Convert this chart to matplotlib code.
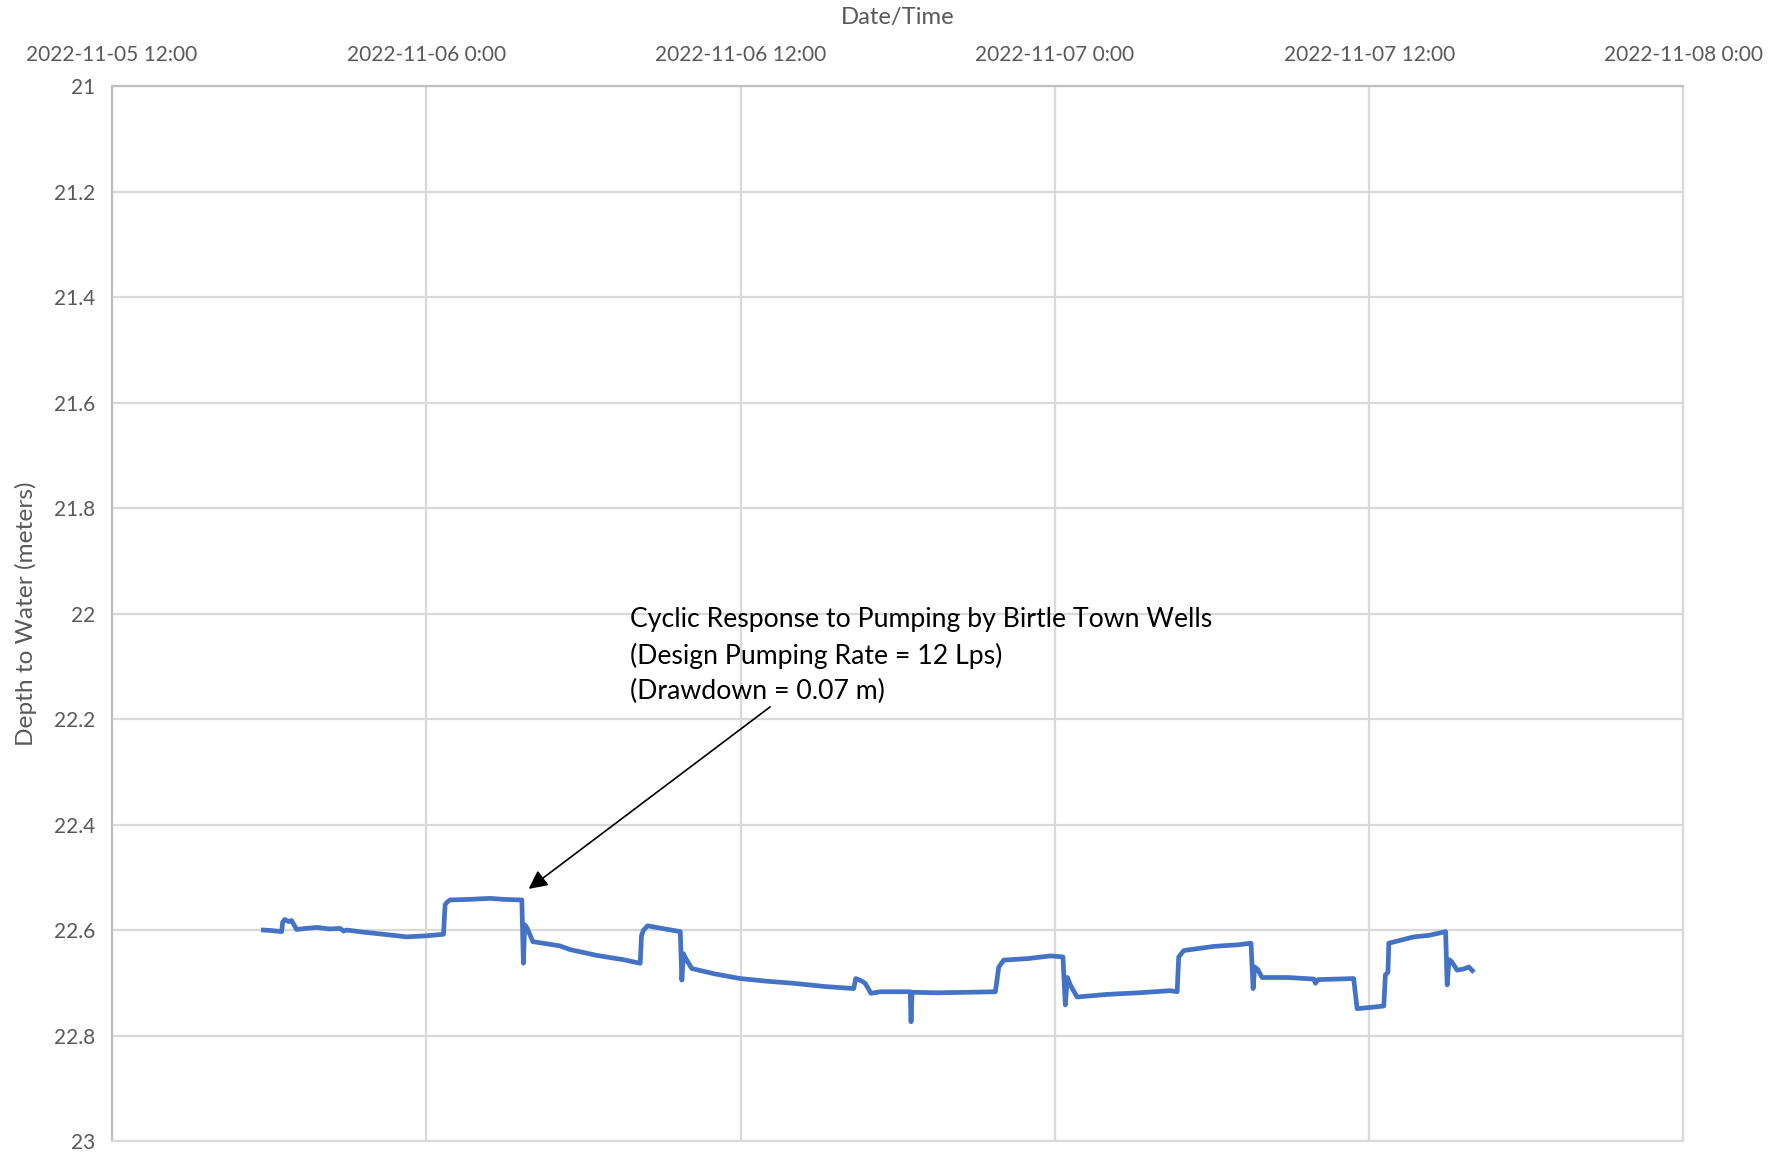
import matplotlib
matplotlib.use("Agg")
import matplotlib.pyplot as plt
import pandas as pd

# ---- data ----
start_time = "2022-11-05 12:00"
hours_since_start = [
    5.78, 6.10, 6.48, 6.52, 6.60, 6.75, 6.86, 7.05, 7.40, 7.82, 8.30, 8.71, 8.85, 8.96,
    9.60, 10.36, 11.26, 12.00, 12.66, 12.72, 12.80, 12.91, 13.60, 14.44, 15.00, 15.65,
    15.71, 15.76, 15.85, 16.07, 17.10, 17.49, 18.50, 19.50, 20.17, 20.22, 20.30, 20.45,
    21.00, 21.70, 21.76, 21.82, 21.92, 22.14, 23.00, 23.99, 25.00, 26.03, 27.20, 28.32,
    28.40, 28.60, 28.76, 28.98, 29.34, 30.48, 30.51, 30.55, 31.50, 32.70, 33.73, 33.86,
    34.05, 35.00, 35.83, 36.31, 36.40, 36.48, 36.60, 36.85, 38.00, 39.20, 40.41, 40.67,
    40.73, 40.92, 41.05, 42.07, 43.00, 43.49, 43.57, 43.63, 43.75, 43.91, 44.90, 45.89,
    45.95, 46.05, 47.41, 47.54, 48.00, 48.56, 48.62, 48.72, 48.75, 49.71, 50.30, 50.92,
    50.98, 51.05, 51.15, 51.36, 51.60, 51.81, 51.94,
]
depth_m = [
    22.600, 22.601, 22.603, 22.585, 22.580, 22.584, 22.582, 22.599, 22.597, 22.595, 22.598, 22.597, 22.602, 22.600,
    22.604, 22.608, 22.613, 22.611, 22.608, 22.552, 22.547, 22.543, 22.542, 22.540, 22.542, 22.543,
    22.663, 22.590, 22.596, 22.622, 22.630, 22.637, 22.648, 22.656, 22.663, 22.610, 22.600, 22.592,
    22.597, 22.603, 22.695, 22.645, 22.655, 22.673, 22.683, 22.692, 22.697, 22.701, 22.707, 22.711,
    22.692, 22.696, 22.701, 22.720, 22.717, 22.717, 22.774, 22.718, 22.719, 22.718, 22.717, 22.670,
    22.657, 22.654, 22.649, 22.651, 22.742, 22.690, 22.705, 22.727, 22.722, 22.719, 22.715, 22.717,
    22.651, 22.639, 22.638, 22.631, 22.628, 22.625, 22.711, 22.670, 22.675, 22.690, 22.690, 22.693,
    22.701, 22.694, 22.692, 22.749, 22.747, 22.744, 22.685, 22.680, 22.625, 22.613, 22.610, 22.603,
    22.704, 22.656, 22.660, 22.676, 22.674, 22.670, 22.677,
]
x_tick_times = ["2022-11-05 12:00", "2022-11-06 00:00", "2022-11-06 12:00",
                "2022-11-07 00:00", "2022-11-07 12:00", "2022-11-08 00:00"]
x_tick_labels = ["2022-11-05 12:00", "2022-11-06 0:00", "2022-11-06 12:00",
                 "2022-11-07 0:00", "2022-11-07 12:00", "2022-11-08 0:00"]
y_ticks = [21.0, 21.2, 21.4, 21.6, 21.8, 22.0, 22.2, 22.4, 22.6, 22.8, 23.0]
y_tick_labels = ["21", "21.2", "21.4", "21.6", "21.8", "22", "22.2", "22.4", "22.6", "22.8", "23"]
annotation_text = ("Cyclic Response to Pumping by Birtle Town Wells\n"
                   "(Design Pumping Rate = 12 Lps)\n"
                   "(Drawdown = 0.07 m)")
arrow_tip_hours, arrow_tip_depth = 15.91, 22.522
arrow_tail_hours, arrow_tail_depth = 25.13, 22.177
text_hours, text_depth = 19.79, 21.988

# ---- figure ----
plt.rcParams['font.family'] = ['Lato', 'DejaVu Sans']
t0 = pd.Timestamp(start_time)
times = t0 + pd.to_timedelta(hours_since_start, unit="h")
tick_times = pd.to_datetime(x_tick_times)

fig = plt.figure(figsize=(17.85, 11.55), dpi=100)
ax = fig.add_axes([0.0627, 0.0121, 0.8804, 0.9134])

ax.plot(times, depth_m, color="#4472C4", lw=3.4, solid_joinstyle="round", zorder=3)

ax.set_xlim(tick_times[0], tick_times[-1])
ax.set_ylim(23.0, 21.0)
ax.set_yticks(y_ticks)
ax.set_yticklabels(y_tick_labels)
ax.set_xticks(tick_times)
ax.set_xticklabels(x_tick_labels)
ax.xaxis.tick_top()
ax.xaxis.set_label_position("top")

grid_c = "#D9D9D9"
ax.grid(True, color=grid_c, lw=1.6)
ax.set_axisbelow(True)
ax.tick_params(axis="both", length=0, labelsize=15, colors="#595959")
ax.tick_params(axis="x", pad=15.5)
ax.tick_params(axis="y", pad=12)
for s in ["right", "bottom"]:
    ax.spines[s].set_color(grid_c)
    ax.spines[s].set_linewidth(1.6)
for s in ["left", "top"]:
    ax.spines[s].set_color("#BFBFBF")
    ax.spines[s].set_linewidth(1.6)

ax.set_xlabel("Date/Time", fontsize=17.2, color="#595959", labelpad=14.5)
ax.set_ylabel("Depth to Water (meters)", fontsize=17.6, color="#595959", labelpad=12)

ax.annotate("", xy=(t0 + pd.Timedelta(hours=arrow_tip_hours), arrow_tip_depth),
            xytext=(t0 + pd.Timedelta(hours=arrow_tail_hours), arrow_tail_depth),
            arrowprops=dict(arrowstyle="-|>", color="black", lw=1.2,
                            mutation_scale=28, shrinkA=0, shrinkB=0), zorder=4)
ax.text(t0 + pd.Timedelta(hours=text_hours), text_depth, annotation_text,
        fontsize=19.2, color="black", va="top", ha="left", linespacing=1.5, zorder=5)

fig.savefig("out.png", dpi=100)
